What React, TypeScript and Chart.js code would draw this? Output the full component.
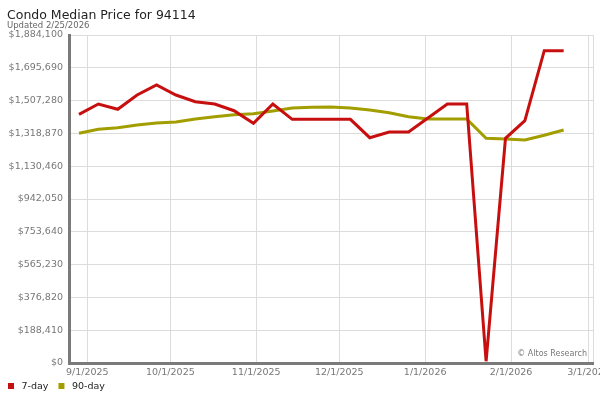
import React, { useEffect, useRef } from 'react';
import { Chart, registerables } from 'chart.js';
import type { Plugin } from 'chart.js';

Chart.register(...registerables);

// weekly points (week ending, Fridays)
const weekEnding = [
  '2025-08-29', '2025-09-05', '2025-09-12', '2025-09-19', '2025-09-26',
  '2025-10-03', '2025-10-10', '2025-10-17', '2025-10-24', '2025-10-31',
  '2025-11-07', '2025-11-14', '2025-11-21', '2025-11-28',
  '2025-12-05', '2025-12-12', '2025-12-19', '2025-12-26',
  '2026-01-02', '2026-01-09', '2026-01-16', '2026-01-23', '2026-01-30',
  '2026-02-06', '2026-02-13', '2026-02-20',
];

const sevenDay = [
  1428500, 1487700, 1457300, 1539400, 1596800,
  1539400, 1500900, 1487700, 1449200, 1376800,
  1487700, 1399800, 1399800, 1399800,
  1399800, 1294100, 1326900, 1326900,
  1407300, 1487700, 1487700, 10000, 1290700,
  1391800, 1793900, 1793900,
];

const ninetyDay = [
  1319400, 1342400, 1351600, 1367100, 1378600,
  1384300, 1401500, 1414800, 1426200, 1432000,
  1447500, 1464700, 1468700, 1470500,
  1464700, 1453200, 1437700, 1414800,
  1401500, 1401500, 1401500, 1290700, 1286700,
  1280900, 1307900, 1338400,
];

const monthTicks = [
  '2025-09-01', '2025-10-01', '2025-11-01', '2025-12-01',
  '2026-01-01', '2026-02-01', '2026-03-01',
];

const Y_MAX = 1884100;
const Y_STEP = 188410;

const DAY = 86400000;
const ORIGIN = Date.UTC(2025, 8, 1);
const toDay = (s: string) => (Date.parse(s + 'T00:00:00Z') - ORIGIN) / DAY;
const fmtDate = (d: number) => {
  const dt = new Date(ORIGIN + Math.round(d) * DAY);
  return `${dt.getUTCMonth() + 1}/${dt.getUTCDate()}/${dt.getUTCFullYear()}`;
};

// axis runs a little past the first and last data points
const X_MIN = -6.6;
const X_MAX = 182.6;

const RED = '#c80f0f';
const OLIVE = '#a39e00';
const FONT = "'DejaVu Sans', sans-serif";

const decor: Plugin<'line'> = {
  id: 'decor',
  afterDraw(chart) {
    const ctx = chart.ctx;
    ctx.save();
    ctx.textAlign = 'left';
    ctx.textBaseline = 'alphabetic';
    ctx.fillStyle = '#222';
    ctx.font = `12.5px ${FONT}`;
    ctx.fillText('Condo Median Price for 94114', 7, 18.5);
    ctx.fillStyle = '#666';
    ctx.font = `8.5px ${FONT}`;
    ctx.fillText('Updated 2/25/2026', 7, 27.5);

    // watermark
    ctx.fillStyle = '#777';
    ctx.font = `8px ${FONT}`;
    ctx.textAlign = 'right';
    ctx.textBaseline = 'middle';
    ctx.fillText('\u00a9 Altos Research', chart.chartArea.right - 6, 353.5);

    // legend
    ctx.textAlign = 'left';
    ctx.font = `9.5px ${FONT}`;
    let x = 8;
    chart.data.datasets.forEach((ds) => {
      ctx.fillStyle = ds.borderColor as string;
      ctx.fillRect(x, 383, 6, 6);
      ctx.fillStyle = '#222';
      ctx.fillText(ds.label || '', x + 13.5, 386.5);
      x += 13.5 + ctx.measureText(ds.label || '').width + 10;
    });
    ctx.restore();
  },
};

export default function App() {
  const canvasRef = useRef<HTMLCanvasElement>(null);

  useEffect(() => {
    if (!canvasRef.current) return;
    const xs = weekEnding.map(toDay);
    const chart = new Chart(canvasRef.current, {
      type: 'line',
      data: {
        datasets: [
          {
            label: '7-day',
            data: xs.map((x, i) => ({ x, y: sevenDay[i] })),
            borderColor: RED,
            backgroundColor: RED,
            borderWidth: 3,
            pointRadius: 0,
            tension: 0,
          },
          {
            label: '90-day',
            data: xs.map((x, i) => ({ x, y: ninetyDay[i] })),
            borderColor: OLIVE,
            backgroundColor: OLIVE,
            borderWidth: 3,
            pointRadius: 0,
            tension: 0,
          },
        ],
      },
      options: {
        animation: false,
        responsive: true,
        maintainAspectRatio: false,
        layout: { padding: { top: 35, right: 7, bottom: 17, left: 0 } },
        font: { family: FONT },
        scales: {
          x: {
            type: 'linear',
            min: X_MIN,
            max: X_MAX,
            grid: { color: '#dcdcdc', lineWidth: 1, drawTicks: false },
            border: { color: '#7a7a7a', width: 3 },
            ticks: {
              autoSkip: false,
              maxRotation: 0,
              padding: 4,
              color: '#777',
              font: { family: FONT, size: 9.5 },
              callback: (v) => (Number(v) >= X_MAX ? '' : fmtDate(Number(v))),
            },
            afterBuildTicks: (scale) => {
              scale.ticks = [...monthTicks.map(toDay), X_MAX].map((value) => ({ value }));
            },
            afterFit: (scale) => {
              scale.height = 20;
              scale.paddingLeft = 0;
              scale.paddingRight = 0;
            },
          },
          y: {
            min: 0,
            max: Y_MAX,
            grid: { color: '#dcdcdc', lineWidth: 1, drawTicks: false },
            border: { color: '#7a7a7a', width: 3 },
            ticks: {
              stepSize: Y_STEP,
              padding: 6,
              color: '#777',
              font: { family: FONT, size: 9.5 },
              callback: (v) => '$' + Number(v).toLocaleString('en-US'),
            },
            afterFit: (scale) => {
              scale.width = 69;
              scale.paddingTop = 0;
              scale.paddingBottom = 0;
            },
          },
        },
        plugins: {
          legend: { display: false },
          tooltip: { enabled: false },
        },
      },
      plugins: [decor],
    });
    return () => chart.destroy();
  }, []);

  return (
    <div style={{ position: 'absolute', left: 0, top: 0, width: 600, height: 400, background: '#fff' }}>
      <canvas ref={canvasRef} />
    </div>
  );
}
